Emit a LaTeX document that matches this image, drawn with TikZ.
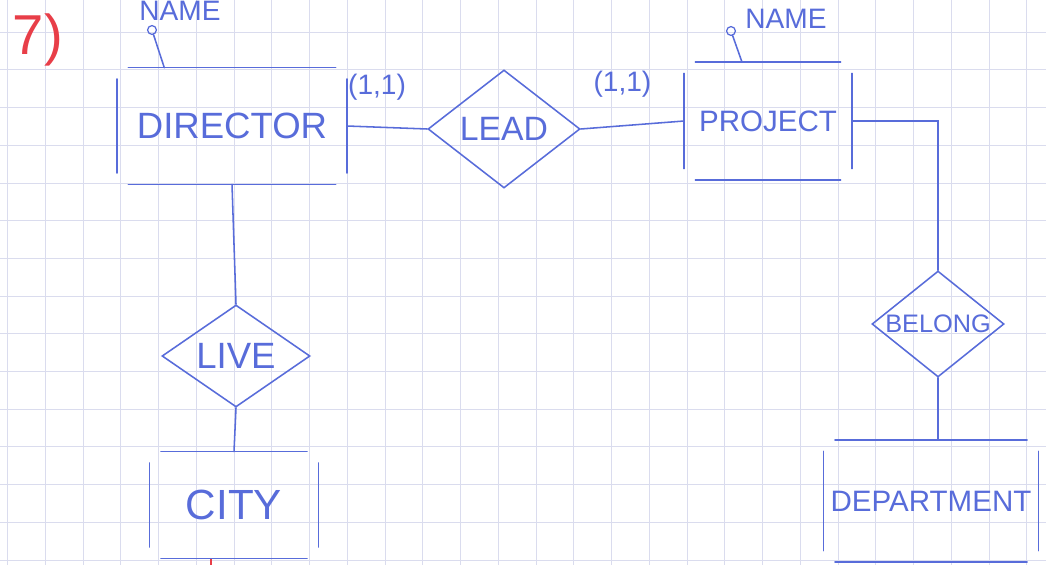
\documentclass[tikz,border=0pt]{standalone}
\usepackage{fontspec}
\setmainfont{Liberation Sans}
\usetikzlibrary{shapes.geometric, positioning}
\definecolor{ink}{RGB}{88,108,218}
\definecolor{paper}{RGB}{218,220,238}
\definecolor{redink}{RGB}{232,62,72}
\tikzset{
  pen/.style={draw=ink, line width=1.1pt, line cap=round},
  hand/.style={text=ink, font=\fontsize{#1}{#1}\selectfont},
  hand/.default=22,
  entity/.style={hand=#1, inner sep=0pt},
  rel/.style={diamond, pen, inner sep=0pt},
  attr/.style={circle, pen, line width=0.9pt, minimum size=0.22cm, inner sep=0pt},
  side/.style={pen, shorten <=8pt, shorten >=8pt},
}

\begin{document}
\begin{tikzpicture}[x=0.025cm, y=-0.025cm]
  \fill[white] (0,0) rectangle (1046,565);
  \useasboundingbox (0,0) rectangle (1046,565);
  % squared paper
  \foreach \gx in {0,...,27}
    \draw[paper, line width=0.7pt] ({7.5+37.75*\gx},0) -- ({7.5+37.75*\gx},565);
  \foreach \gy in {1,...,15}
    \draw[paper, line width=0.7pt] (0,{-5.5+37.7*\gy}) -- (1046,{-5.5+37.7*\gy});
  % exercise number
  \node[text=redink, font=\fontsize{40}{40}\selectfont] (num) at (38,40) {7)};
  \draw[redink, line width=1.5pt] (211,559) -- (211,566);
  % entities
  \node[entity=26, minimum width=5.73cm, minimum height=2.9cm] (dir) at (232,126) {DIRECTOR};
  \node[entity=21, minimum width=4.18cm, minimum height=2.93cm] (prj) at (768,121) {PROJECT};
  \node[entity=30, minimum width=4.2cm, minimum height=2.65cm] (city) at (234,505) {CITY};
  \node[entity=21, minimum width=5.35cm, minimum height=3.03cm] (dept) at (931,501) {DEPARTMENT};
  \foreach \e in {dir,prj,city,dept} {
    \draw[side] (\e.north west) -- (\e.north east);
    \draw[side] (\e.north east) -- (\e.south east);
    \draw[side] (\e.south east) -- (\e.south west);
    \draw[side] (\e.south west) -- (\e.north west);
  }
  % relationships
  \node[rel, minimum width=3.8cm, minimum height=2.95cm, label={[hand=24]center:LEAD}] (lead) at (504,129) {};
  \node[rel, minimum width=3.7cm, minimum height=2.55cm, label={[hand=26]center:LIVE}] (live) at (236,356) {};
  \node[rel, minimum width=3.3cm, minimum height=2.65cm, label={[hand=18]center:BELONG}] (bel) at (938,324) {};
  % attributes
  \node[attr] (dname) at (152,30) {};
  \node[hand=20] (dnamet) at (180,11) {NAME};
  \node[attr] (pname) at (731,31) {};
  \node[hand=20] (pnamet) at (786,19) {NAME};
  \draw[pen] (dname) -- ([xshift=1.18cm]dir.north west);
  \draw[pen] (pname) -- ([xshift=-0.65cm]prj.north);
  % links
  \draw[pen] (dir.east) -- node[hand=20, above=0.55cm, xshift=-0.25cm] (card1) {(1,1)} (lead.west);
  \draw[pen] (lead.east) -- node[hand=20, above=0.55cm, xshift=-0.25cm] (card2) {(1,1)} (prj.west);
  \draw[pen] (prj.east) -| (bel.north);
  \draw[pen] (bel.south) -- (bel.south |- dept.north);
  \draw[pen] (dir.south) -- (live.north);
  \draw[pen] (live.south) -- (city.north);
\end{tikzpicture}
\end{document}
